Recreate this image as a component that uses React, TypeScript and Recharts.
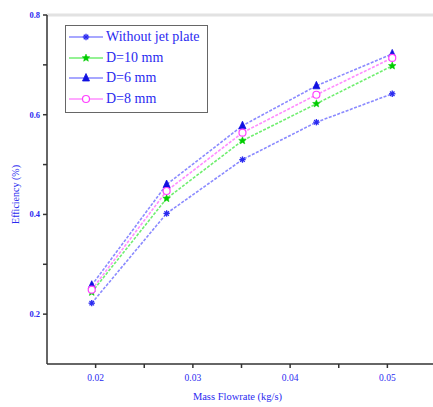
import React from 'react';
import { LineChart, Line, XAxis, YAxis, ReferenceLine } from 'recharts';

const flowRates = [0.0196, 0.0273, 0.0351, 0.0427, 0.0505];
const withoutJet = [0.222, 0.402, 0.51, 0.585, 0.642];
const d10 = [0.244, 0.432, 0.548, 0.622, 0.698];
const d6 = [0.258, 0.46, 0.578, 0.658, 0.722];
const d8 = [0.249, 0.447, 0.564, 0.64, 0.714];

const xTicks = [0.02, 0.025, 0.03, 0.035, 0.04, 0.045, 0.05];
const xMajor = [0.02, 0.03, 0.04, 0.05];
const yTicks = [0.2, 0.3, 0.4, 0.5, 0.6, 0.7, 0.8];
const yMajor = [0.2, 0.4, 0.6, 0.8];

const data = flowRates.map((f, i) => ({
  flow: f,
  without: withoutJet[i],
  d10: d10[i],
  d6: d6[i],
  d8: d8[i],
}));

const TEXT = '#2a2af0';
const FONT = '"Liberation Serif", "DejaVu Serif", serif';

type MarkerKind = 'asterisk' | 'star' | 'triangle' | 'circle';

const drawMarker = (kind: MarkerKind, cx: number, cy: number, color: string, key?: string) => {
  if (kind === 'asterisk') {
    const r = 3.2;
    return (
      <g key={key} stroke={color} strokeWidth={1.3}>
        <line x1={cx - r} y1={cy} x2={cx + r} y2={cy} />
        <line x1={cx - r * 0.7} y1={cy - r * 0.7} x2={cx + r * 0.7} y2={cy + r * 0.7} />
        <line x1={cx - r * 0.7} y1={cy + r * 0.7} x2={cx + r * 0.7} y2={cy - r * 0.7} />
        <line x1={cx} y1={cy - r} x2={cx} y2={cy + r} />
      </g>
    );
  }
  if (kind === 'star') {
    const pts: string[] = [];
    for (let k = 0; k < 10; k++) {
      const r = k % 2 === 0 ? 4 : 1.8;
      const a = -Math.PI / 2 + (k * Math.PI) / 5;
      pts.push(`${cx + r * Math.cos(a)},${cy + r * Math.sin(a)}`);
    }
    return <polygon key={key} points={pts.join(' ')} fill={color} stroke={color} strokeWidth={0.5} />;
  }
  if (kind === 'triangle') {
    return (
      <polygon
        key={key}
        points={`${cx},${cy - 4.5} ${cx - 3.5},${cy + 3} ${cx + 3.5},${cy + 3}`}
        fill={color}
        stroke={color}
        strokeWidth={0.8}
      />
    );
  }
  return <circle key={key} cx={cx} cy={cy} r={3.5} fill="#fff" stroke={color} strokeWidth={1.2} />;
};

const series = [
  { key: 'without', name: 'Without jet plate', line: '#8a8aff', marker: '#2a2af0', kind: 'asterisk' as MarkerKind },
  { key: 'd10', name: 'D=10 mm', line: '#70ee70', marker: '#00cc00', kind: 'star' as MarkerKind },
  { key: 'd6', name: 'D=6 mm', line: '#8a8aff', marker: '#1010e0', kind: 'triangle' as MarkerKind },
  { key: 'd8', name: 'D=8 mm', line: '#ff8cff', marker: '#ff40ff', kind: 'circle' as MarkerKind },
];

const makeDot = (kind: MarkerKind, color: string) => (props: any) => {
  const { cx, cy, index } = props;
  if (cx == null || cy == null) return <g key={`e${index}`} />;
  return drawMarker(kind, cx, cy, color, `m${index}`);
};

const YTick = (props: any) => {
  const { x, y, payload } = props;
  if (!yMajor.some((v) => Math.abs(v - payload.value) < 1e-9)) return <g />;
  return (
    <text x={x} y={y} dy={3} textAnchor="end" fontSize={8.5} fontWeight="bold" fill={TEXT} fontFamily={FONT}>
      {payload.value.toFixed(1)}
    </text>
  );
};

const XTick = (props: any) => {
  const { x, y, payload } = props;
  if (!xMajor.some((v) => Math.abs(v - payload.value) < 1e-9)) return <g />;
  return (
    <text x={x} y={y} dy={10} textAnchor="middle" fontSize={9.5} fill={TEXT} fontFamily={FONT}>
      {payload.value.toFixed(2)}
    </text>
  );
};

const LegendBox = () => (
  <div
    style={{
      position: 'absolute',
      left: 65,
      top: 25,
      border: '1.5px solid #666',
      background: '#fff',
      width: 143,
      padding: '1px 0 3px 2px',
      boxSizing: 'border-box',
      fontFamily: FONT,
      fontSize: 14,
      color: TEXT,
    }}
  >
    {series.map((s) => (
      <div key={s.key} style={{ display: 'flex', alignItems: 'center', height: 20.5 }}>
        <svg width={36} height={12} style={{ flex: 'none' }}>
          <line x1={1} y1={6} x2={35} y2={6} stroke={s.line} strokeWidth={1.5} />
          {drawMarker(s.kind, 18, 6, s.marker)}
        </svg>
        <span style={{ marginLeft: 2, whiteSpace: 'nowrap', lineHeight: '14px' }}>{s.name}</span>
      </div>
    ))}
  </div>
);

export default function App() {
  return (
    <div style={{ position: 'absolute', left: 0, top: 0, width: 433, height: 407, overflow: 'hidden', background: '#fff' }}>
      <LineChart width={436} height={407} data={data} margin={{ top: 15, right: 0, bottom: 18, left: 7 }}>
        <XAxis
          dataKey="flow"
          type="number"
          domain={[0.015, 0.055]}
          ticks={xTicks}
          allowDataOverflow
          stroke="#333"
          strokeWidth={1.5}
          tickSize={4}
          tickMargin={3}
          tick={<XTick />}
          height={25}
          label={{
            value: 'Mass Flowrate (kg/s)',
            position: 'insideBottom',
            offset: -11,
            fill: TEXT,
            fontSize: 10.5,
            fontFamily: FONT,
            dx: -4,
          }}
        />
        <YAxis
          type="number"
          domain={[0.1, 0.8]}
          ticks={yTicks}
          allowDataOverflow
          stroke="#333"
          strokeWidth={1.5}
          tickSize={4}
          tickMargin={3}
          tick={<YTick />}
          width={40}
          label={{
            value: 'Efficiency (%)',
            angle: -90,
            position: 'insideLeft',
            offset: 8,
            dy: 5,
            textAnchor: 'middle',
            fill: TEXT,
            fontSize: 10,
            fontFamily: FONT,
          }}
        />
        <ReferenceLine y={0.8} stroke="#e2e2e2" strokeWidth={3} ifOverflow="extendDomain" />
        {series.map((s) => (
          <Line
            key={s.key}
            dataKey={s.key}
            name={s.name}
            type="linear"
            stroke={s.line}
            strokeWidth={1.6}
            strokeDasharray="3 1.5"
            dot={makeDot(s.kind, s.marker)}
            activeDot={false}
            isAnimationActive={false}
          />
        ))}
      </LineChart>
      <LegendBox />
    </div>
  );
}
